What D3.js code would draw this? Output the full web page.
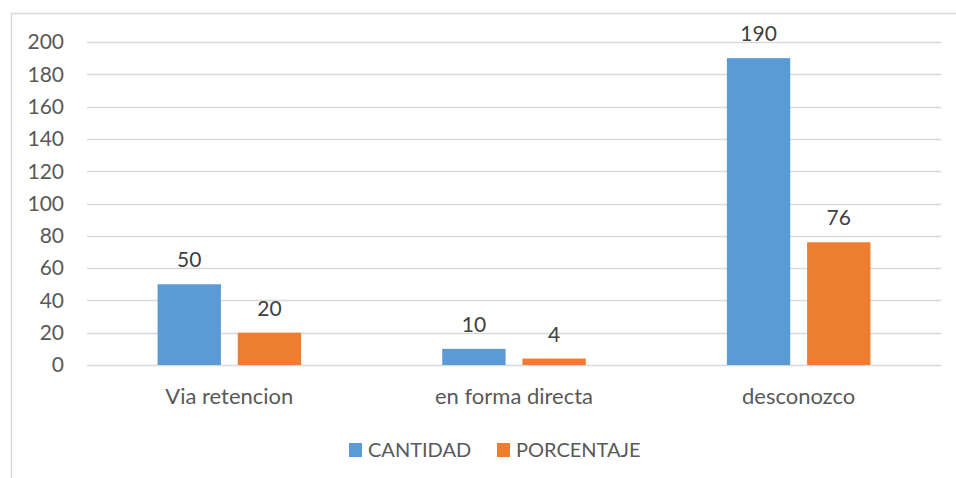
<!DOCTYPE html>
<html>
<head>
<meta charset="utf-8">
<script src="https://cdn.jsdelivr.net/npm/d3@7/dist/d3.min.js"></script>
<style>
  html,body{margin:0;padding:0;background:#fff;}
  svg{display:block;font-family:Lato,"Open Sans",Arial,sans-serif;}
</style>
</head>
<body>
<svg id="chart" width="956" height="478"></svg>
<script>
// chart data
const categories = ["Via retencion", "en forma directa", "desconozco"];
const seriesNames = ["CANTIDAD", "PORCENTAJE"];
const cantidad = [50, 10, 190];
const porcentaje = [20, 4, 76];
const yTicks = [0, 20, 40, 60, 80, 100, 120, 140, 160, 180, 200];

const colors = ["#5B9BD5", "#ED7D31"];
const textColor = "#595959";
const gridColor = "#D9D9D9";

const svg = d3.select("#chart");

// outer chart frame (runs past right/bottom edge like the screenshot)
svg.append("rect")
  .attr("x", 11.5).attr("y", 13.5)
  .attr("width", 1000).attr("height", 500)
  .attr("fill", "none")
  .attr("stroke", gridColor)
  .attr("stroke-width", 1.5);

const plot = {left: 87, right: 941, top: 42, bottom: 365};

const y = d3.scaleLinear()
  .domain([0, 200])
  .range([plot.bottom, plot.top]);

const x = d3.scaleBand()
  .domain(categories)
  .range([plot.left, plot.right])
  .paddingInner(0)
  .paddingOuter(0);

const xs = d3.scaleBand()
  .domain(seriesNames)
  .range([0, x.bandwidth()])
  .paddingInner(0.21)
  .paddingOuter(0.88);

// gridlines
svg.append("g")
  .selectAll("line")
  .data(yTicks)
  .join("line")
  .attr("x1", plot.left).attr("x2", plot.right)
  .attr("y1", d => Math.round(y(d)) + 0.5)
  .attr("y2", d => Math.round(y(d)) + 0.5)
  .attr("stroke", gridColor)
  .attr("stroke-width", 1.3);

// y labels
svg.append("g")
  .selectAll("text")
  .data(yTicks)
  .join("text")
  .attr("x", 64)
  .attr("y", d => y(d))
  .attr("dy", "0.35em")
  .attr("text-anchor", "end")
  .attr("fill", textColor)
  .style("font-size", "21px")
  .text(d => d);

const seriesData = [cantidad, porcentaje];

seriesNames.forEach((name, si) => {
  const g = svg.append("g");
  const vals = seriesData[si];

  g.selectAll("rect")
    .data(categories)
    .join("rect")
    .attr("x", (c) => x(c) + xs(name))
    .attr("width", xs.bandwidth())
    .attr("y", (c, i) => y(vals[i]))
    .attr("height", (c, i) => y(0) - y(vals[i]))
    .attr("fill", colors[si]);

  g.selectAll("text")
    .data(categories)
    .join("text")
    .attr("x", (c) => x(c) + xs(name) + xs.bandwidth() / 2)
    .attr("y", (c, i) => y(vals[i]) - 17)
    .attr("text-anchor", "middle")
    .attr("fill", "#404040")
    .style("font-size", "21px")
    .text((c, i) => vals[i]);
});

// category labels
svg.append("g")
  .selectAll("text")
  .data(categories)
  .join("text")
  .attr("x", c => x(c) + x.bandwidth() / 2)
  .attr("y", 404)
  .attr("text-anchor", "middle")
  .attr("fill", textColor)
  .style("font-size", "22px")
  .text(c => c);

// legend
const legendX = [349, 497];
const legend = svg.append("g");
seriesNames.forEach((name, i) => {
  legend.append("rect")
    .attr("x", legendX[i]).attr("y", 443)
    .attr("width", 13).attr("height", 14)
    .attr("fill", colors[i]);
  legend.append("text")
    .attr("x", legendX[i] + 19)
    .attr("y", 457)
    .attr("fill", textColor)
    .style("font-size", "20px")
    .text(name);
});
</script>
</body>
</html>
